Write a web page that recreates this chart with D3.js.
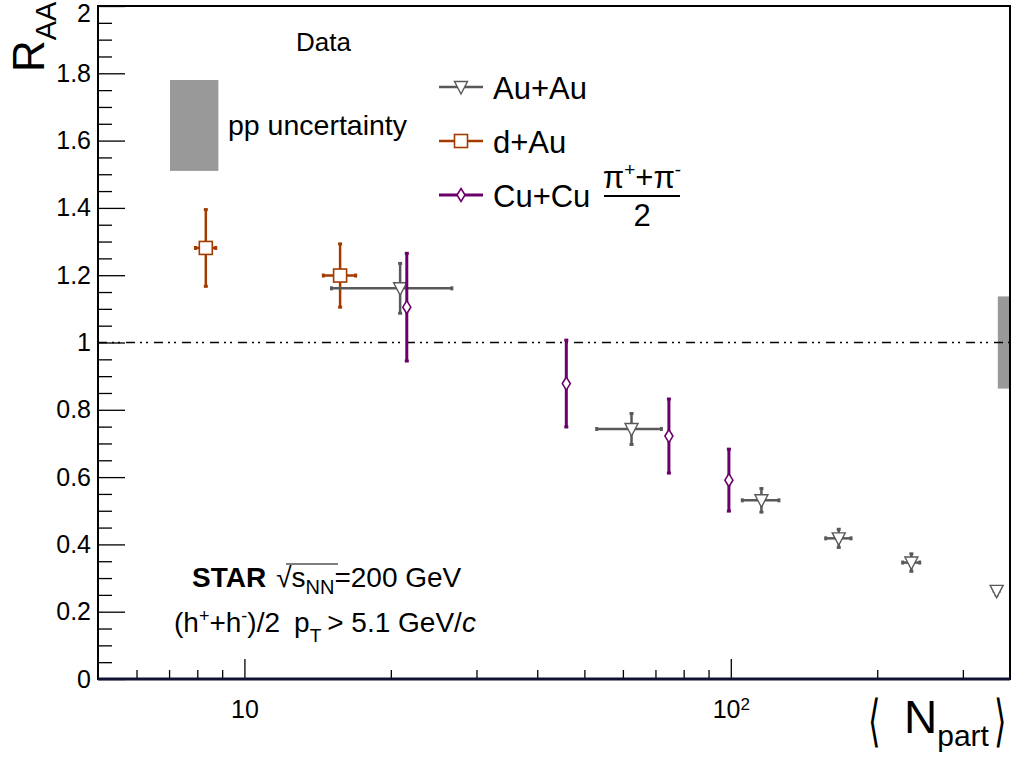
<!DOCTYPE html>
<html>
<head>
<meta charset="utf-8">
<script src="https://cdn.jsdelivr.net/npm/d3@7"></script>
<style>
  html, body { margin: 0; padding: 0; background: #ffffff; }
  svg { display: block; }
  text { font-family: "Liberation Sans", Arial, Helvetica, sans-serif; }
</style>
</head>
<body>
<svg id="chart" width="1015" height="757"></svg>
<script>
// ---------------- data ----------------
const auauNpart = [20.9, 62.5, 115.6, 166.7, 235.1, 352];
const auauRaa   = [1.161, 0.743, 0.531, 0.418, 0.346, 0.262];
const auauXerr  = [5.8, 9.5, 10, 10, 9.5, 4];
const auauYerr  = [0.074, 0.046, 0.035, 0.027, 0.026, 0.012];

const dauNpart = [8.33, 15.73];
const dauRaa   = [1.281, 1.199];
const dauXerr  = [0.4, 1.2];
const dauYerr  = [0.114, 0.094];

const cucuNpart = [21.57, 45.9, 74.6, 99.1];
const cucuRaa   = [1.105, 0.878, 0.722, 0.591];
const cucuYerr  = [0.16, 0.129, 0.11, 0.092];

const ppBoxX = [7.03, 8.84];
const ppBoxY = [1.51, 1.78];
const normBandX = [354, 375];
const normBandY = [0.863, 1.137];

const xMajorTicks = [10, 100];
const xMajorLabels = ["10", "10^2"];
const xMinorTicks = [6, 7, 8, 9, 20, 30, 40, 50, 60, 70, 80, 90, 200, 300];
const yMajorTicks = [0, 0.2, 0.4, 0.6, 0.8, 1, 1.2, 1.4, 1.6, 1.8, 2];
const yMinorTicks = d3.range(0, 2.001, 0.05).filter(v => Math.abs(v * 5 - Math.round(v * 5)) > 1e-6);

const legendLabels = ["Au+Au", "d+Au", "Cu+Cu"];

// ---------------- setup ----------------
const svg = d3.select("#chart");
const L = 98, R = 1010, T = 6, B = 679;
const x = d3.scaleLog().domain([5, 375]).range([L, R]);
const y = d3.scaleLinear().domain([0, 2]).range([B, T]);

const colAu = "#595959", colD = "#a33a00", colCu = "#6b006b", colGray = "#999999";

// bands
svg.append("rect")
  .attr("x", x(ppBoxX[0])).attr("y", y(ppBoxY[1]))
  .attr("width", x(ppBoxX[1]) - x(ppBoxX[0]))
  .attr("height", y(ppBoxY[0]) - y(ppBoxY[1]))
  .attr("fill", colGray);
svg.append("rect")
  .attr("x", x(normBandX[0])).attr("y", y(normBandY[1]))
  .attr("width", x(normBandX[1]) - x(normBandX[0]))
  .attr("height", y(normBandY[0]) - y(normBandY[1]))
  .attr("fill", colGray);

// reference line
svg.append("line")
  .attr("x1", L).attr("x2", R).attr("y1", y(1)).attr("y2", y(1))
  .attr("stroke", "#000").attr("stroke-width", 1.6)
  .attr("stroke-dasharray", "9,5,2,4,2,6");

// axes
const gx = svg.append("g").attr("transform", `translate(0,${B})`);
gx.call(d3.axisBottom(x).tickValues(xMinorTicks).tickSize(-9).tickSizeOuter(0).tickFormat(""));
gx.append("g").call(d3.axisBottom(x).tickValues(xMajorTicks).tickSize(-20).tickSizeOuter(0).tickPadding(21)
  .tickFormat((d, i) => xMajorLabels[i]));
gx.selectAll(".domain").remove();
gx.selectAll("line").attr("stroke", "#000").attr("stroke-width", 1.3);
gx.selectAll("text").attr("font-size", 25).attr("fill", "#000")
  .each(function () {
    const t = d3.select(this);
    const s = t.text();
    if (s.includes("^")) {
      const [b, e] = s.split("^");
      t.text(b);
      t.append("tspan").attr("dy", "-0.45em").attr("font-size", 17).text(e);
    }
  });

const gy = svg.append("g").attr("transform", `translate(${L},0)`);
gy.call(d3.axisLeft(y).tickValues(yMinorTicks).tickSize(-14).tickSizeOuter(0).tickFormat(""));
gy.append("g").call(d3.axisLeft(y).tickValues(yMajorTicks).tickSize(-27).tickSizeOuter(0).tickPadding(7)
  .tickFormat(d3.format("")));
gy.selectAll(".domain").remove();
gy.selectAll("line").attr("stroke", "#000").attr("stroke-width", 1.3);
gy.selectAll("text").attr("font-size", 25).attr("fill", "#000")
  .filter(d => d === 2).attr("dy", "0.62em");

// frame
svg.append("rect").attr("x", L).attr("y", T).attr("width", R - L).attr("height", B - T)
  .attr("fill", "none").attr("stroke", "#000").attr("stroke-width", 2);
svg.append("line").attr("x1", L).attr("x2", R).attr("y1", B).attr("y2", B)
  .attr("stroke", "#111133").attr("stroke-width", 3);

// ---------------- markers ----------------
function triDown(g, col) {
  g.append("path").attr("d", "M-6.5,-5.5 L6.5,-5.5 L0,7 Z")
    .attr("fill", "#fff").attr("stroke", col).attr("stroke-width", 1.4);
}
function square(g, col) {
  g.append("rect").attr("x", -6.5).attr("y", -6.5).attr("width", 13).attr("height", 13)
    .attr("fill", "#fff").attr("stroke", col).attr("stroke-width", 1.6);
}
function diamond(g, col) {
  g.append("path").attr("d", "M0,-6.5 L4,0 L0,6.5 L-4,0 Z")
    .attr("fill", "#fff").attr("stroke", col).attr("stroke-width", 1.6);
}

function errorSeries(xs, ys, xe, ye, col, lw, markerFn) {
  const g = svg.append("g");
  xs.forEach((xv, i) => {
    const cx = x(xv), cy = y(ys[i]);
    if (ye && ye[i] > 0) {
      const y1 = y(ys[i] + ye[i]), y2 = y(ys[i] - ye[i]);
      g.append("line").attr("x1", cx).attr("x2", cx).attr("y1", y1).attr("y2", y2)
        .attr("stroke", col).attr("stroke-width", lw);
      [y1, y2].forEach(yy => g.append("rect").attr("x", cx - 2).attr("y", yy - 1.5)
        .attr("width", 4).attr("height", 3).attr("fill", col));
    }
    if (xe && xe[i] > 0) {
      const x1 = x(xv - xe[i]), x2 = x(xv + xe[i]);
      g.append("line").attr("x1", x1).attr("x2", x2).attr("y1", cy).attr("y2", cy)
        .attr("stroke", col).attr("stroke-width", lw);
      [x1, x2].forEach(xx => g.append("rect").attr("x", xx - 1.5).attr("y", cy - 2)
        .attr("width", 3).attr("height", 4).attr("fill", col));
    }
    const m = g.append("g").attr("transform", `translate(${cx},${cy})`);
    markerFn(m, col);
  });
}

errorSeries(dauNpart, dauRaa, dauXerr, dauYerr, colD, 2.5, square);
errorSeries(auauNpart, auauRaa, auauXerr, auauYerr, colAu, 2.5, triDown);
errorSeries(cucuNpart, cucuRaa, null, cucuYerr, colCu, 3, diamond);

// ---------------- legend ----------------
const legCols = [colAu, colD, colCu];
const legMarkers = [triDown, square, diamond];
const legY = [87, 141, 195];
legendLabels.forEach((lab, i) => {
  svg.append("line").attr("x1", 439).attr("x2", 483).attr("y1", legY[i]).attr("y2", legY[i])
    .attr("stroke", legCols[i]).attr("stroke-width", i === 2 ? 3 : 2.5);
  const m = svg.append("g").attr("transform", `translate(461,${legY[i]})`);
  legMarkers[i](m, legCols[i]);
  svg.append("text").attr("x", 493).attr("y", legY[i] + 12).attr("font-size", 31).text(lab);
});
// fraction (pi+ + pi-)/2
const fr = svg.append("g");
const num = fr.append("text").attr("x", 642).attr("y", 188).attr("text-anchor", "middle").attr("font-size", 31);
num.append("tspan").text("π");
num.append("tspan").attr("dy", -12).attr("font-size", 19).text("+");
num.append("tspan").attr("dy", 12).text("+π");
num.append("tspan").attr("dy", -12).attr("font-size", 19).text("-");
fr.append("line").attr("x1", 604).attr("x2", 680).attr("y1", 196).attr("y2", 196)
  .attr("stroke", "#000").attr("stroke-width", 2);
fr.append("text").attr("x", 642).attr("y", 226).attr("text-anchor", "middle").attr("font-size", 31).text("2");

svg.append("text").attr("x", 296).attr("y", 51).attr("font-size", 26).text("Data");
svg.append("text").attr("x", 228).attr("y", 135).attr("font-size", 28.5).text("pp uncertainty");

// ---------------- annotations ----------------
const t1 = svg.append("text").attr("x", 192).attr("y", 587).attr("font-size", 28);
t1.append("tspan").attr("font-weight", "bold").text("STAR");
t1.append("tspan").attr("dx", 10).text("√");
t1.append("tspan").text("s");
t1.append("tspan").attr("dy", 7).attr("font-size", 20).text("NN");
t1.append("tspan").attr("dy", -7).text("=200 GeV");
// radical overline
svg.append("line").attr("x1", 286).attr("x2", 338).attr("y1", 564).attr("y2", 564)
  .attr("stroke", "#000").attr("stroke-width", 1.2);

const t2 = svg.append("text").attr("x", 174).attr("y", 632).attr("font-size", 28);
t2.append("tspan").text("(h");
t2.append("tspan").attr("dy", -10).attr("font-size", 18).text("+");
t2.append("tspan").attr("dy", 10).text("+h");
t2.append("tspan").attr("dy", -10).attr("font-size", 18).text("-");
t2.append("tspan").attr("dy", 10).text(")/2");
t2.append("tspan").attr("dx", 14).text("p");
t2.append("tspan").attr("dy", 10).attr("font-size", 19).text("T");
t2.append("tspan").attr("dy", -10).attr("dx", 6).text("> 5.1 GeV/");
t2.append("tspan").attr("font-style", "italic").text("c");

// axis titles
const yl = svg.append("text").attr("transform", "translate(44,72) rotate(-90)").attr("font-size", 44);
yl.append("tspan").text("R");
yl.append("tspan").attr("dy", 12).attr("font-size", 29).text("AA");

svg.append("text").attr("transform", "translate(868,740) scale(0.8,1.4)")
  .attr("font-family", "DejaVu Sans").attr("font-size", 40).text("⟨");
const xl = svg.append("text").attr("x", 904).attr("y", 733).attr("font-size", 46);
xl.append("tspan").text("N");
xl.append("tspan").attr("dy", 13).attr("font-size", 30).text("part");
svg.append("text").attr("transform", "translate(994,740) scale(0.8,1.4)")
  .attr("font-family", "DejaVu Sans").attr("font-size", 40).text("⟩");
</script>
</body>
</html>
